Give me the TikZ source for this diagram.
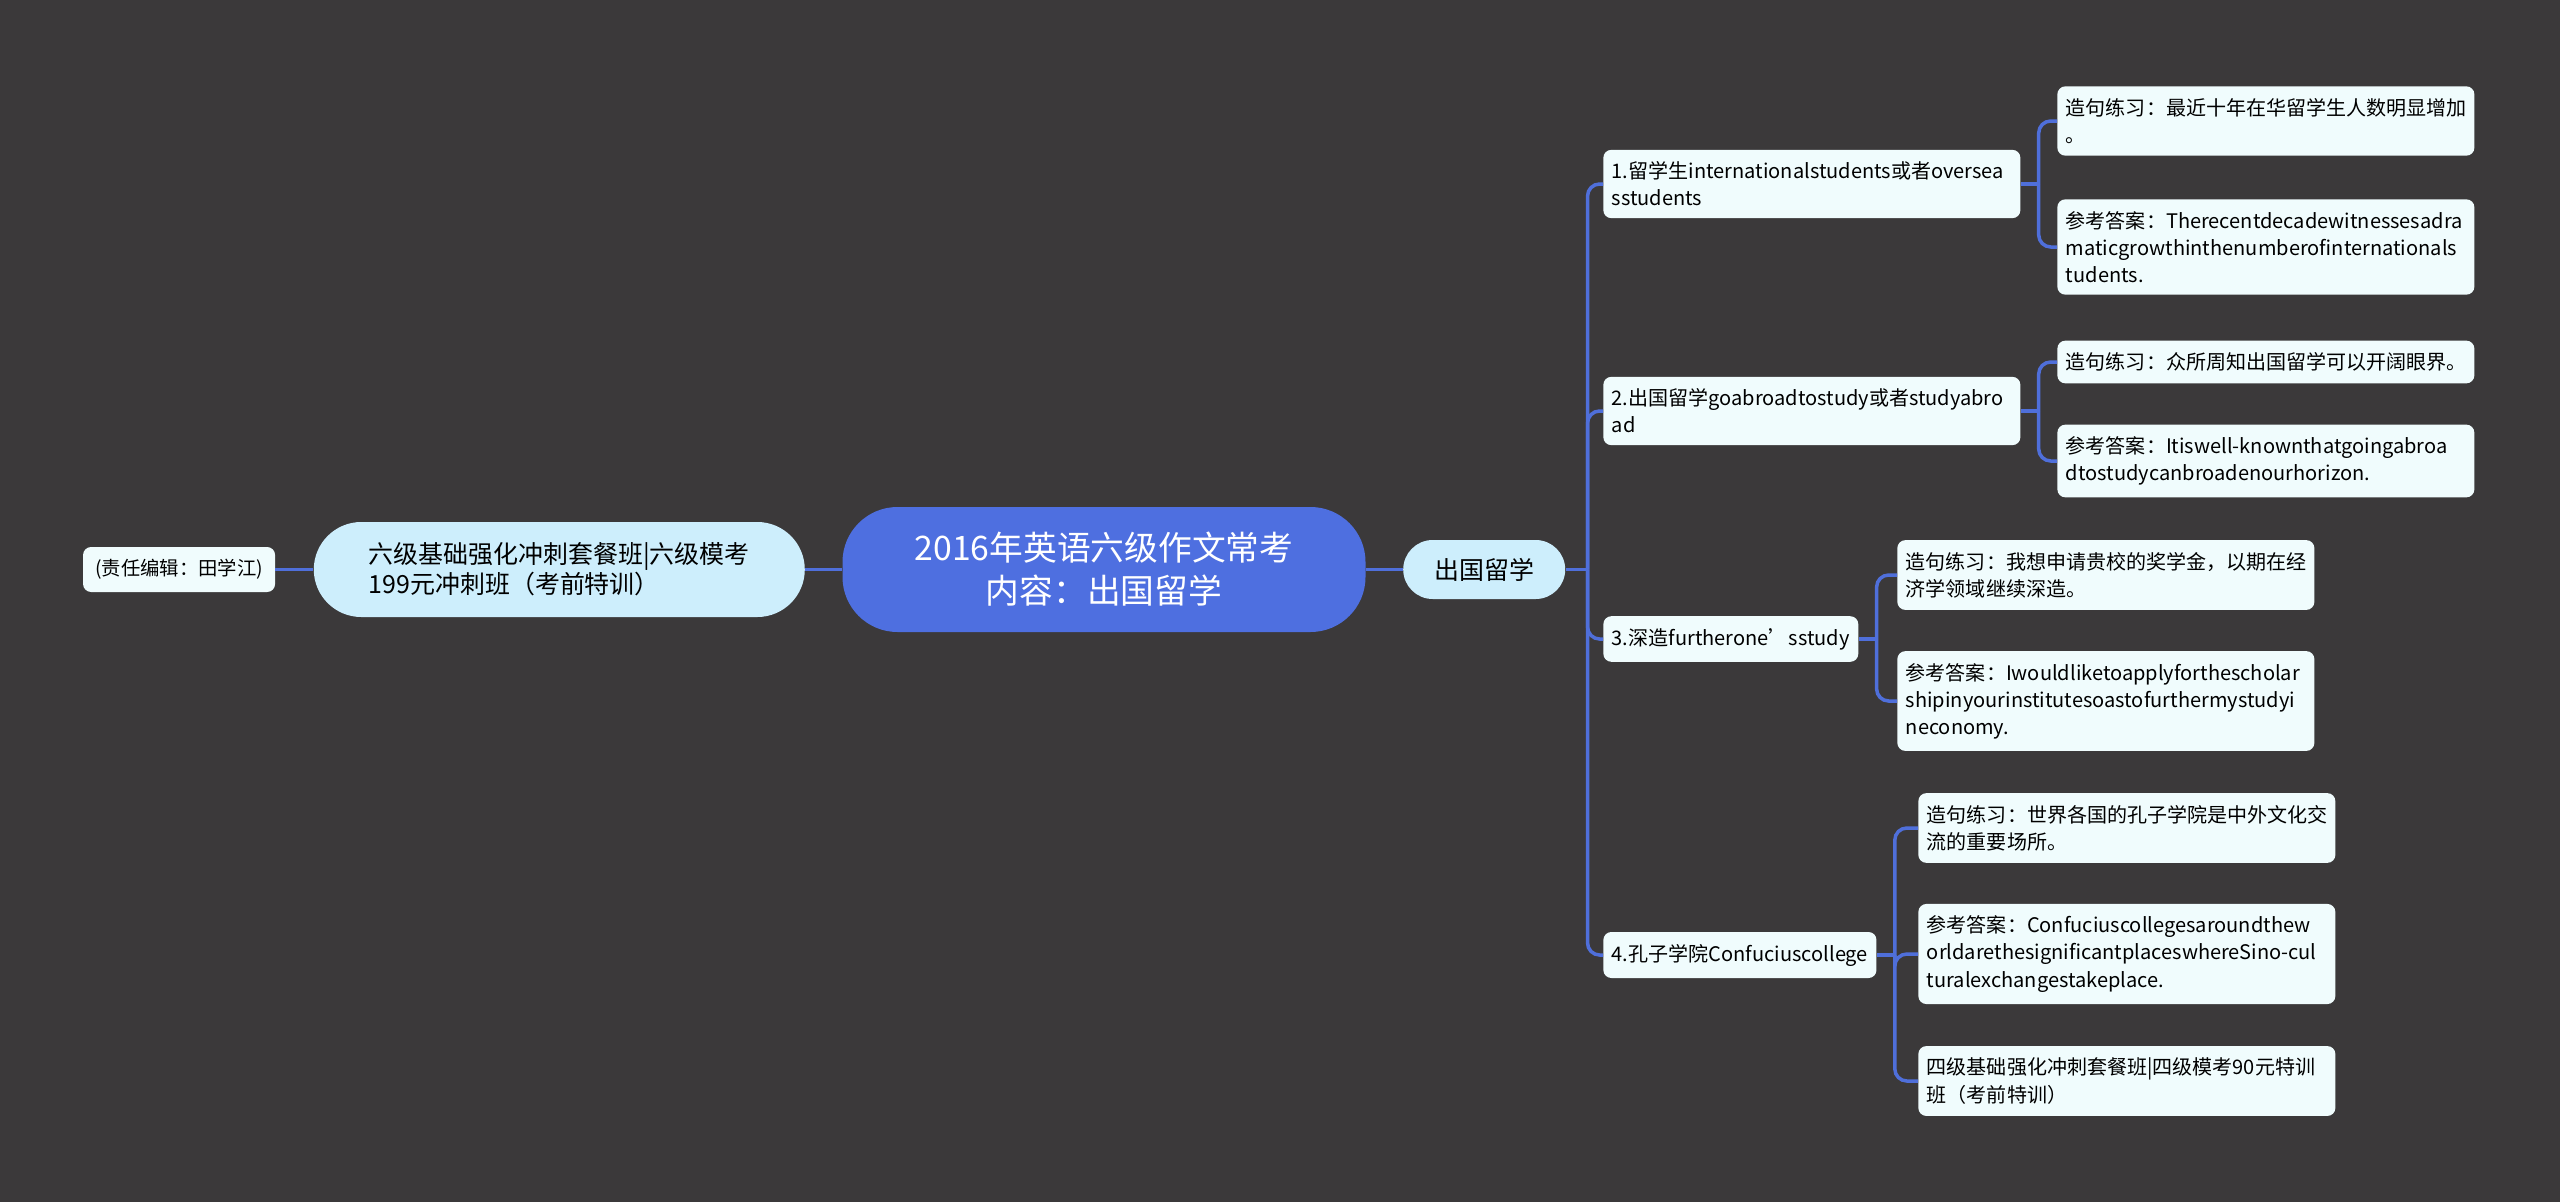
\documentclass[tikz,border=0pt]{standalone}
\usepackage{fontspec}
\setmainfont{Noto Sans CJK SC}
\usetikzlibrary{positioning}
\definecolor{bgdark}{RGB}{59,57,58}
\definecolor{linkblue}{RGB}{79,111,218}
\definecolor{rootblue}{RGB}{78,111,224}
\definecolor{topiccyan}{RGB}{205,238,252}
\definecolor{leaffill}{RGB}{240,252,253}
\tikzset{
    root/.style={
        rectangle, fill=rootblue, rounded corners=11mm,
        minimum width=104.6mm, minimum height=25mm,
        text=white, align=center, font=\fontsize{19.2}{24.5}\selectfont
    },
    topic/.style={
        rectangle, fill=topiccyan, rounded corners=5.9mm,
        minimum width=32.4mm, minimum height=11.8mm,
        font=\fontsize{14.2}{18}\selectfont
    },
    course/.style={
        rectangle, fill=topiccyan, rounded corners=9.5mm,
        minimum width=98.2mm, minimum height=19mm,
        align=left, font=\fontsize{14.2}{17.1}\selectfont
    },
    note/.style={
        rectangle, fill=leaffill, rounded corners=1.6mm,
        minimum width=38.4mm, minimum height=9mm,
        font=\fontsize{11}{14}\selectfont
    },
    entry/.style={
        rectangle, fill=leaffill, rounded corners=1.6mm,
        inner xsep=1.7mm, inner ysep=2.4mm, anchor=west,
        font=\fontsize{11.4}{15.4}\selectfont
    },
    leaf/.style={entry, text width=80mm, align=left},
    link/.style={draw=linkblue, line width=0.7mm, rounded corners=2.4mm}
}

\begin{document}
\begin{tikzpicture}[x=0.2mm, y=-0.2mm]
\fill[bgdark] (0,0) rectangle (2560,1202);
\useasboundingbox (0,0) rectangle (2560,1202);

% Centre and left side
\node[root] (root) at (1104,569.5) {2016年英语六级作文常考\\内容：出国留学};
\node[course, left=7.4mm of root] (course) {六级基础强化冲刺套餐班|六级模考\\199元冲刺班（考前特训）};
\node[note, left=7.6mm of course] (editor) {(责任编辑：田学江)};
\node[topic, right=7.4mm of root] (topic) {出国留学};

% Words and phrases
\node[leaf] (w1) at (1603,184) {1.留学生internationalstudents或者oversea\\sstudents};
\node[leaf] (w2) at (1603,411) {2.出国留学goabroadtostudy或者studyabro\\ad};
\node[entry] (w3) at (1603,639) {3.深造furtherone’sstudy};
\node[entry] (w4) at (1603,955) {4.孔子学院Confuciuscollege};

% Practice and answers
\node[leaf] (w1a) at (2057,121) {造句练习：最近十年在华留学生人数明显增加\\。};
\node[leaf] (w1b) at (2057,247) {参考答案：Therecentdecadewitnessesadra\\maticgrowthinthenumberofinternationals\\tudents.};
\node[leaf] (w2a) at (2057,362) {造句练习：众所周知出国留学可以开阔眼界。};
\node[leaf] (w2b) at (2057,461) {参考答案：Itiswell-knownthatgoingabroa\\dtostudycanbroadenourhorizon.};
\node[leaf] (w3a) at (1897,575) {造句练习：我想申请贵校的奖学金，以期在经\\济学领域继续深造。};
\node[leaf] (w3b) at (1897,701) {参考答案：Iwouldliketoapplyforthescholar\\shipinyourinstitutesoastofurthermystudyi\\neconomy.};
\node[leaf] (w4a) at (1918,828) {造句练习：世界各国的孔子学院是中外文化交\\流的重要场所。};
\node[leaf] (w4b) at (1918,954) {参考答案：Confuciuscollegesaroundthew\\orldarethesignificantplaceswhereSino-cul\\turalexchangestakeplace.};
\node[leaf] (w4c) at (1918,1081) {四级基础强化冲刺套餐班|四级模考90元特训\\班（考前特训）};

% Links
\draw[link] (editor) -- (course);
\draw[link] (course) -- (root);
\draw[link] (root) -- (topic);

\draw[link] (topic.east) -- ++(22,0) coordinate (jt);
\foreach \n in {w1,w2,w3,w4}
    \draw[link] (jt) |- (\n.west);

\draw[link] (w1.east) -- ++(18,0) coordinate (j1);
\draw[link] (j1) |- (w1a.west);
\draw[link] (j1) |- (w1b.west);

\draw[link] (w2.east) -- ++(18,0) coordinate (j2);
\draw[link] (j2) |- (w2a.west);
\draw[link] (j2) |- (w2b.west);

\draw[link] (w3.east) -- ++(18,0) coordinate (j3);
\draw[link] (j3) |- (w3a.west);
\draw[link] (j3) |- (w3b.west);

\draw[link] (w4.east) -- ++(18,0) coordinate (j4);
\foreach \n in {w4a,w4b,w4c}
    \draw[link] (j4) |- (\n.west);

\end{tikzpicture}
\end{document}
